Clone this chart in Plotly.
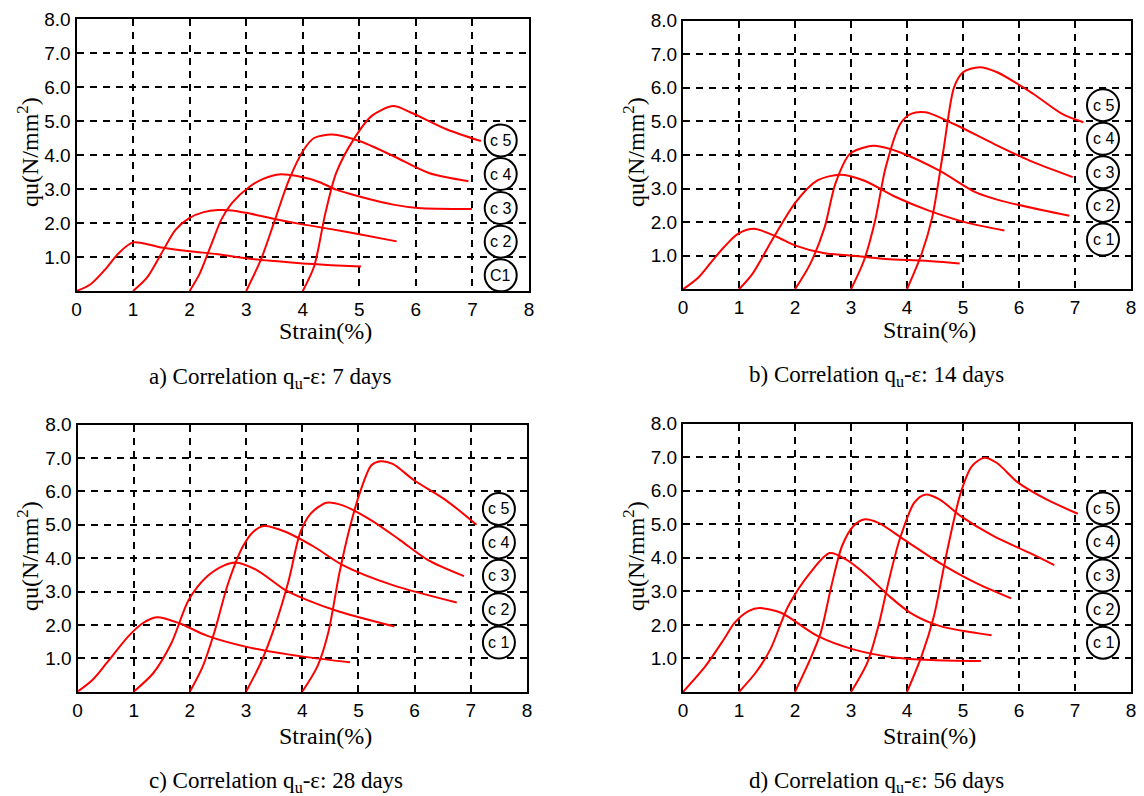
import plotly.graph_objects as go

# ---------------- data ----------------
curve_labels_7d = ["C1", "c 2", "c 3", "c 4", "c 5"]
curve_labels = ["c 1", "c 2", "c 3", "c 4", "c 5"]
x_ticks = [0, 1, 2, 3, 4, 5, 6, 7, 8]
y_ticks = [1, 2, 3, 4, 5, 6, 7, 8]
y_tick_text = ["1.0", "2.0", "3.0", "4.0", "5.0", "6.0", "7.0", "8.0"]

# 7 days
strain_7d = [
    [0, 0.25, 0.5, 0.75, 1.0, 1.5, 2.0, 2.5, 3.0, 3.5, 4.0, 4.5, 5.03],
    [1.0, 1.25, 1.5, 1.75, 2.0, 2.25, 2.5, 2.75, 3.0, 3.5, 4.0, 4.5, 5.0, 5.66],
    [2.0, 2.18, 2.37, 2.56, 2.75, 3.07, 3.3, 3.57, 3.9, 4.3, 4.59, 5.0, 5.6, 6.04, 6.99],
    [3.0, 3.26, 3.51, 3.76, 4.02, 4.2, 4.52, 5.0, 5.6, 6.23, 6.93],
    [4.0, 4.2, 4.4, 4.59, 4.9, 5.22, 5.6, 5.91, 6.55, 7.15],
]
qu_7d = [
    [0, 0.2, 0.62, 1.12, 1.43, 1.28, 1.17, 1.08, 0.96, 0.88, 0.81, 0.76, 0.72],
    [0, 0.4, 1.1, 1.8, 2.15, 2.32, 2.38, 2.37, 2.3, 2.12, 1.96, 1.82, 1.67, 1.46],
    [0, 0.52, 1.31, 2.1, 2.59, 3.08, 3.3, 3.43, 3.38, 3.2, 2.98, 2.78, 2.54, 2.44, 2.41],
    [0, 0.92, 2.1, 3.28, 4.16, 4.5, 4.6, 4.41, 3.97, 3.47, 3.23],
    [0, 0.72, 2.29, 3.47, 4.46, 5.15, 5.44, 5.25, 4.75, 4.41],
]

# 14 days
strain_14d = [
    [0, 0.28, 0.5, 0.73, 0.98, 1.27, 1.69, 2.01, 2.53, 3.04, 3.62, 4.33, 4.94],
    [1.0, 1.24, 1.62, 2.01, 2.4, 2.81, 3.23, 3.81, 4.39, 5.03, 5.74],
    [2.0, 2.27, 2.53, 2.72, 2.98, 3.3, 3.43, 3.87, 4.58, 5.22, 5.67, 6.9],
    [3.0, 3.23, 3.43, 3.62, 3.88, 4.07, 4.33, 4.84, 5.55, 6.19, 6.96],
    [4.0, 4.26, 4.45, 4.65, 4.84, 5.0, 5.29, 5.61, 6.25, 6.77, 7.15],
]
qu_14d = [
    [0, 0.36, 0.8, 1.25, 1.65, 1.8, 1.55, 1.3, 1.07, 1.0, 0.9, 0.85, 0.77],
    [0, 0.46, 1.55, 2.59, 3.24, 3.41, 3.24, 2.74, 2.34, 2.0, 1.75],
    [0, 0.75, 1.85, 3.14, 4.03, 4.25, 4.27, 4.08, 3.53, 2.89, 2.64, 2.19],
    [0, 0.85, 2.04, 3.63, 4.92, 5.22, 5.27, 4.92, 4.33, 3.83, 3.34],
    [0, 1.05, 2.14, 4.13, 6.01, 6.46, 6.61, 6.46, 5.82, 5.22, 4.97],
]

# 28 days
strain_28d = [
    [0, 0.27, 0.52, 0.9, 1.16, 1.41, 1.81, 2.3, 3.07, 4.02, 4.85],
    [1.0, 1.35, 1.67, 1.98, 2.3, 2.62, 2.81, 3.19, 3.7, 4.08, 4.65, 5.64],
    [2.0, 2.23, 2.43, 2.68, 2.94, 3.13, 3.32, 3.7, 4.21, 4.72, 5.61, 6.75],
    [3.0, 3.26, 3.51, 3.76, 3.96, 4.15, 4.43, 4.72, 5.23, 5.74, 6.24, 6.88],
    [4.0, 4.27, 4.46, 4.66, 4.85, 5.04, 5.23, 5.39, 5.61, 5.99, 6.56, 7.1],
]
qu_28d = [
    [0, 0.36, 0.86, 1.65, 2.05, 2.23, 2.05, 1.68, 1.32, 1.05, 0.88],
    [0, 0.56, 1.45, 2.75, 3.44, 3.79, 3.87, 3.64, 3.04, 2.75, 2.4, 1.95],
    [0, 0.76, 1.75, 3.24, 4.34, 4.79, 4.96, 4.79, 4.34, 3.79, 3.19, 2.67],
    [0, 0.86, 1.95, 3.34, 4.74, 5.33, 5.66, 5.58, 5.13, 4.54, 3.94, 3.46],
    [0, 0.76, 1.75, 3.54, 4.94, 6.03, 6.78, 6.9, 6.82, 6.33, 5.73, 5.0],
]

# 56 days
strain_56d = [
    [0, 0.4, 0.73, 0.92, 1.17, 1.37, 1.75, 2.4, 3.04, 3.81, 4.45, 5.32],
    [1.0, 1.3, 1.56, 1.88, 2.27, 2.62, 2.91, 3.3, 3.68, 4.06, 4.58, 5.51],
    [2.0, 2.27, 2.46, 2.65, 2.84, 3.04, 3.23, 3.49, 3.94, 4.58, 5.22, 5.86],
    [3.0, 3.29, 3.49, 3.68, 3.87, 4.13, 4.32, 4.58, 4.96, 5.54, 6.18, 6.63],
    [4.0, 4.26, 4.48, 4.71, 4.96, 5.16, 5.38, 5.6, 5.99, 6.5, 7.05],
]
qu_56d = [
    [0, 0.77, 1.57, 2.06, 2.41, 2.5, 2.36, 1.67, 1.27, 1.02, 0.95, 0.92],
    [0, 0.58, 1.27, 2.56, 3.55, 4.14, 3.95, 3.45, 2.86, 2.36, 1.97, 1.69],
    [0, 0.97, 1.77, 3.16, 4.35, 4.94, 5.14, 5.04, 4.55, 3.85, 3.26, 2.79],
    [0, 0.87, 1.97, 3.35, 4.55, 5.64, 5.88, 5.74, 5.24, 4.65, 4.15, 3.78],
    [0, 1.07, 2.26, 4.15, 5.94, 6.73, 6.98, 6.83, 6.23, 5.73, 5.31],
]

captions = [
    "a) Correlation q<sub>u</sub>-ε: 7 days",
    "b) Correlation q<sub>u</sub>-ε: 14 days",
    "c) Correlation q<sub>u</sub>-ε: 28 days",
    "d) Correlation q<sub>u</sub>-ε: 56 days",
]

# ---------------- layout constants ----------------
W, H = 1144, 796
SANS = "Liberation Sans, Arial, sans-serif"
SERIF = "Liberation Serif, Times New Roman, serif"
RED = "#ff0000"

panels = [
    dict(strain=strain_7d, qu=qu_7d, labels=curve_labels_7d,
         box=(76.5, 529, 19, 291), circ_y=[0.46, 1.45, 2.44, 3.44, 4.43],
         ytitle=(28, 152), xtitle=(325, 331), cap=(270, 378)),
    dict(strain=strain_14d, qu=qu_14d, labels=curve_labels,
         box=(683, 1131, 20.5, 289.3), circ_y=[1.48, 2.48, 3.48, 4.48, 5.48],
         ytitle=(634, 152), xtitle=(929, 330), cap=(876, 376)),
    dict(strain=strain_28d, qu=qu_28d, labels=curve_labels,
         box=(77.5, 527, 424.5, 691.7), circ_y=[1.47, 2.47, 3.47, 4.47, 5.47],
         ytitle=(28, 556), xtitle=(325, 736), cap=(276, 782)),
    dict(strain=strain_56d, qu=qu_56d, labels=curve_labels,
         box=(683, 1131, 423.5, 692), circ_y=[1.47, 2.47, 3.47, 4.47, 5.47],
         ytitle=(634, 556), xtitle=(929, 736), cap=(876, 782)),
]

fig = go.Figure()
shapes = []
annotations = []
layout_axes = {}

grid_common = dict(
    showgrid=True, gridcolor="black", gridwidth=2, griddash="7px,6px",
    showline=True, linecolor="black", linewidth=2, mirror=True,
    ticks="", zeroline=False, fixedrange=True, automargin=False,
    tickfont=dict(family=SANS, size=19, color="black"),
)

for i, p in enumerate(panels):
    n = "" if i == 0 else str(i + 1)
    xref, yref = "x" + n, "y" + n
    x0, x1, yt, yb = p["box"]
    layout_axes["xaxis" + n] = dict(
        domain=[x0 / W, x1 / W], range=[0, 8], anchor=yref,
        tickmode="array", tickvals=x_ticks, ticktext=[str(v) for v in x_ticks],
        **grid_common)
    layout_axes["yaxis" + n] = dict(
        domain=[1 - yb / H, 1 - yt / H], range=[0, 8], anchor=xref,
        tickmode="array", tickvals=y_ticks, ticktext=y_tick_text,
        **grid_common)

    for xs, ys in zip(p["strain"], p["qu"]):
        fig.add_trace(go.Scatter(
            x=xs, y=ys, mode="lines", xaxis=xref, yaxis=yref,
            line=dict(color=RED, width=2, shape="spline", smoothing=0.8),
            showlegend=False, hoverinfo="skip"))

    for cy, lab in zip(p["circ_y"], p["labels"]):
        shapes.append(dict(
            type="circle", xref=xref, yref=yref, xsizemode="pixel", ysizemode="pixel",
            xanchor=7.5, yanchor=cy, x0=-16, x1=16, y0=-16, y1=16,
            line=dict(color="black", width=2), fillcolor="white", layer="above"))
        annotations.append(dict(
            x=7.5, y=cy, xref=xref, yref=yref, text=lab, showarrow=False,
            font=dict(family=SANS, size=16, color="black"),
            xanchor="center", yanchor="middle"))

    tx, ty = p["ytitle"]
    annotations.append(dict(
        x=tx / W, y=1 - ty / H, xref="paper", yref="paper",
        text="qu(N/mm<sup>2</sup>)", textangle=-90, showarrow=False,
        font=dict(family=SERIF, size=24, color="black"),
        xanchor="center", yanchor="middle"))
    sx, sy = p["xtitle"]
    annotations.append(dict(
        x=sx / W, y=1 - sy / H, xref="paper", yref="paper",
        text="Strain(%)", showarrow=False,
        font=dict(family=SERIF, size=24, color="black"),
        xanchor="center", yanchor="middle"))
    cx, cy2 = p["cap"]
    annotations.append(dict(
        x=cx / W, y=1 - cy2 / H, xref="paper", yref="paper",
        text=captions[i], showarrow=False,
        font=dict(family=SERIF, size=23, color="black"),
        xanchor="center", yanchor="middle"))

fig.update_layout(
    width=W, height=H,
    margin=dict(l=0, r=0, t=0, b=0, autoexpand=False),
    paper_bgcolor="white", plot_bgcolor="white",
    showlegend=False,
    shapes=shapes, annotations=annotations,
    **layout_axes,
)

# remove the default 8px page margin so the figure fills the window exactly
fig.write_html(
    "out.html",
    config={"displayModeBar": False},
    post_script="document.body.style.margin='0';document.body.style.overflow='hidden';",
)
